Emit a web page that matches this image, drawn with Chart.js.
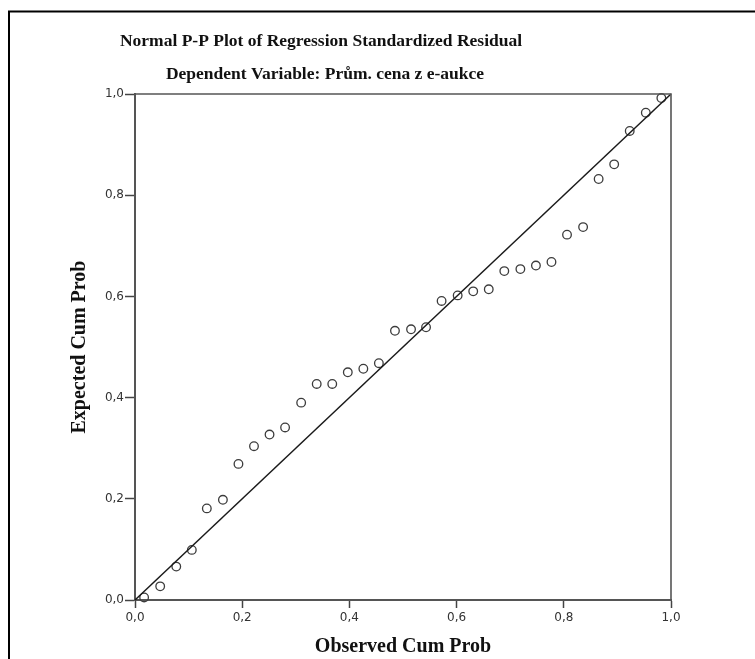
<!DOCTYPE html>
<html>
<head>
<meta charset="utf-8">
<script src="https://cdn.jsdelivr.net/npm/chart.js@4"></script>
<style>
  html, body { margin: 0; padding: 0; background: #fff; }
  canvas { display: block; }
</style>
</head>
<body>
<canvas id="pp-chart" width="755" height="659"></canvas>
<script>
// Data
const observedCumProb = [0.017, 0.047, 0.077, 0.106, 0.134, 0.164, 0.193, 0.222, 0.251, 0.280,
    0.310, 0.339, 0.368, 0.397, 0.426, 0.455, 0.485, 0.515, 0.543, 0.572,
    0.602, 0.631, 0.660, 0.689, 0.719, 0.748, 0.777, 0.806, 0.836, 0.865,
    0.894, 0.923, 0.953, 0.982];
const expectedCumProb = [0.005, 0.027, 0.066, 0.099, 0.181, 0.198, 0.269, 0.304, 0.327, 0.341,
    0.390, 0.427, 0.427, 0.450, 0.457, 0.468, 0.532, 0.535, 0.539, 0.591,
    0.602, 0.610, 0.614, 0.650, 0.654, 0.661, 0.668, 0.722, 0.737, 0.832,
    0.861, 0.927, 0.963, 0.992];
const refLine = [0, 1];
const tickValues = [0, 0.2, 0.4, 0.6, 0.8, 1.0];

const titleLines = [
    'Normal P-P Plot of Regression Standardized Residual',
    'Dependent Variable: Prům. cena z e-aukce'
];

document.addEventListener('DOMContentLoaded', function() {

    const ctx = document.getElementById('pp-chart');

    // frame, plot box and titles
    const framePlugin = {
        id: 'frame',
        beforeDraw(chart) {
            const c = chart.ctx;
            c.save();
            c.fillStyle = '#fff';
            c.fillRect(0, 0, chart.width, chart.height);
            c.strokeStyle = '#000';
            c.lineWidth = 2;
            c.strokeRect(9, 11.5, 900, 900);
            c.restore();
        },
        afterDatasetsDraw(chart) {
            const a = chart.chartArea;
            const c = chart.ctx;
            c.save();
            c.strokeStyle = '#555';
            c.lineWidth = 1.6;
            c.beginPath();
            c.moveTo(a.left, a.top);
            c.lineTo(a.right, a.top);
            c.lineTo(a.right, a.bottom);
            c.stroke();

            c.fillStyle = '#111';
            c.font = 'bold 17.5px "Liberation Serif"';
            c.textAlign = 'center';
            c.textBaseline = 'middle';
            c.fillText(titleLines[0], 321, 41);
            c.fillText(titleLines[1], 325, 74);
            c.restore();
        }
    };

    const fmt = v => v.toFixed(1).replace('.', ',');

    const axisCommon = {
        type: 'linear',
        min: 0,
        max: 1,
        afterBuildTicks: s => { s.ticks = tickValues.map(v => ({ value: v })); },
        border: { display: true, color: '#555', width: 2 },
        grid: {
            drawOnChartArea: false,
            drawTicks: true,
            tickColor: '#444',
            tickWidth: 1.5
        }
    };

    new Chart(ctx, {
        type: 'scatter',
        data: {
            datasets: [{
                type: 'line',
                data: refLine.map(v => ({ x: v, y: v })),
                borderColor: '#1a1a1a',
                borderWidth: 1.5,
                pointRadius: 0,
                fill: false
            }, {
                data: observedCumProb.map((x, i) => ({ x: x, y: expectedCumProb[i] })),
                pointStyle: 'circle',
                pointRadius: 4.3,
                borderWidth: 1.3,
                borderColor: '#3c3c3c',
                backgroundColor: 'rgba(0,0,0,0)'
            }]
        },
        options: {
            responsive: false,
            animation: false,
            clip: false,
            layout: { padding: { left: 60, right: 84, top: 94, bottom: 0 } },
            plugins: {
                legend: { display: false },
                tooltip: { enabled: false }
            },
            scales: {
                x: Object.assign({}, axisCommon, {
                    afterFit: s => { s.height = 59; },
                    grid: Object.assign({}, axisCommon.grid, { tickLength: 8 }),
                    ticks: {
                        padding: 3,
                        color: '#333',
                        font: { family: '"DejaVu Sans"', size: 12 },
                        callback: fmt
                    },
                    title: {
                        display: true,
                        text: 'Observed Cum Prob',
                        color: '#111',
                        font: { family: '"Liberation Serif"', size: 20, weight: 'bold' },
                        padding: { top: 0, bottom: 0 }
                    }
                }),
                y: Object.assign({}, axisCommon, {
                    afterFit: s => { s.width = 75; },
                    grid: Object.assign({}, axisCommon.grid, { tickLength: 10 }),
                    ticks: {
                        padding: 1,
                        color: '#333',
                        font: { family: '"DejaVu Sans"', size: 12 },
                        callback: fmt
                    },
                    title: {
                        display: true,
                        text: 'Expected Cum Prob',
                        color: '#111',
                        font: { family: '"Liberation Serif"', size: 20, weight: 'bold' },
                        padding: { top: 8, bottom: 0 }
                    }
                })
            }
        },
        plugins: [framePlugin]
    });
});
</script>
</body>
</html>
